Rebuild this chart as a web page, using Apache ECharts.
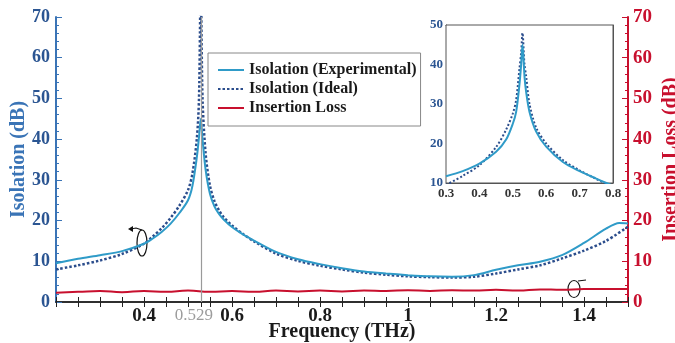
<!DOCTYPE html>
<html>
<head>
<meta charset="utf-8">
<script src="https://cdn.jsdelivr.net/npm/echarts@6/dist/echarts.min.js"></script>
<style>
  html, body { margin: 0; padding: 0; background: #fff; }
  #chart { width: 675px; height: 343px; }
</style>
</head>
<body>
<div id="chart"></div>
<script>
// Isolacion experimental (trazo continuo)
const freqExp = [0.20, 0.25, 0.30, 0.35, 0.40, 0.42, 0.44, 0.46, 0.48, 0.50, 0.51, 0.52, 0.525, 0.529, 0.533, 0.54, 0.55, 0.56, 0.57, 0.58, 0.60, 0.625, 0.65, 0.70, 0.75, 0.80, 0.85, 0.90, 0.95, 1.00, 1.05, 1.10, 1.15, 1.20, 1.25, 1.30, 1.35, 1.40, 1.45, 1.48, 1.50];
const isoExp = [9.5, 10.6, 11.5, 12.5, 14.3, 15.6, 17.2, 19.2, 21.8, 25.0, 28.5, 35.5, 40.5, 45, 40, 32.5, 26.5, 23.5, 21.7, 20.4, 18.4, 16.6, 15.1, 12.3, 10.5, 9.3, 8.3, 7.5, 7.0, 6.6, 6.3, 6.2, 6.6, 7.9, 9.0, 9.9, 11.5, 14.5, 18.0, 19.4, 19.3];

// Isolacion ideal (punteada)
const freqIdeal = [0.20, 0.25, 0.30, 0.35, 0.40, 0.42, 0.44, 0.46, 0.48, 0.50, 0.51, 0.52, 0.525, 0.529, 0.533, 0.54, 0.55, 0.56, 0.57, 0.58, 0.60, 0.625, 0.65, 0.70, 0.75, 0.80, 0.85, 0.90, 0.95, 1.00, 1.05, 1.10, 1.15, 1.20, 1.25, 1.30, 1.35, 1.40, 1.45, 1.50];
const isoIdeal = [8.0, 9.0, 10.2, 11.8, 14.3, 16.1, 18.1, 20.6, 23.6, 27.5, 31.5, 40, 50, 78, 50, 36.5, 28.5, 24.8, 22.6, 21.0, 18.8, 16.7, 14.9, 11.9, 10.1, 8.9, 8.0, 7.2, 6.7, 6.3, 6.1, 6.0, 6.2, 7.0, 8.0, 9.0, 10.7, 12.6, 15.0, 18.5];

// Perdida de insercion
const freqLoss = [0.20, 0.25, 0.30, 0.35, 0.40, 0.45, 0.50, 0.55, 0.60, 0.65, 0.70, 0.75, 0.80, 0.85, 0.90, 0.95, 1.00, 1.05, 1.10, 1.15, 1.20, 1.25, 1.30, 1.35, 1.40, 1.45, 1.50];
const insLoss = [2.3, 2.5, 2.7, 2.4, 2.7, 2.5, 2.8, 2.5, 2.7, 2.5, 2.8, 2.6, 2.8, 2.6, 2.8, 2.7, 2.9, 2.7, 2.9, 2.8, 3.0, 2.8, 3.1, 3.0, 3.2, 3.2, 3.2];

// Recuadro ampliado
const insetFreq = [0.30, 0.35, 0.40, 0.45, 0.48, 0.50, 0.51, 0.52, 0.525, 0.529, 0.535, 0.54, 0.55, 0.57, 0.60, 0.65, 0.70, 0.75, 0.78, 0.80];
const insetExp = [11.7, 13.0, 14.9, 17.9, 21.0, 25.0, 28.0, 35.0, 40.0, 45.0, 37.0, 33.0, 28.0, 23.0, 19.2, 15.3, 13.0, 11.1, 10.0, 9.3];
const insetIdeal = [9.5, 11.8, 14.5, 19.1, 23.5, 27.6, 31.0, 39.0, 43.0, 48.0, 40.0, 37.0, 30.0, 24.0, 20.0, 15.8, 13.2, 11.0, 9.8, 9.0];

const xLabels = [0.4, 0.529, 0.6, 0.8, 1, 1.2, 1.4];
const resonance = 0.529;

const FONT = 'Liberation Serif';
const C_EXP = '#2f9bc8';
const C_IDEAL = '#2b4d8c';
const C_LOSS = '#c8102e';
const C_AXIS_BLUE = '#3a74b6';
const C_LABEL_BLUE = '#2b5592';

const pairs = (xs, ys) => xs.map((x, i) => [x, ys[i]]);

// marcas menores cada 0.05 THz
const xTicks = [];
for (let i = 0; i <= 26; i++) xTicks.push(Math.round((0.2 + i * 0.05) * 100) / 100);
xTicks.push(resonance);

const chart = echarts.init(document.getElementById('chart'));

chart.setOption({
  animation: false,
  backgroundColor: '#fff',
  textStyle: { fontFamily: FONT },
  grid: [
    { left: 56, right: 47, top: 17, bottom: 41, outerBoundsMode: 'none' },
    { left: 446, top: 25, width: 167, height: 158, outerBoundsMode: 'none', show: true, backgroundColor: '#fff', borderColor: '#555', borderWidth: 1, z: 5 }
  ],
  legend: {
    left: 208, top: 53,
    orient: 'vertical',
    itemWidth: 26, itemHeight: 10, itemGap: 3,
    padding: [9, 4, 10, 9],
    borderColor: '#888', borderWidth: 1,
    backgroundColor: '#fff',
    itemStyle: { opacity: 0 },
    textStyle: { fontFamily: FONT, fontWeight: 'bold', fontSize: 16, color: '#1a1a1a' },
    data: ['Isolation (Experimental)', 'Isolation (Ideal)', 'Insertion Loss']
  },
  xAxis: [
    {
      type: 'value', gridIndex: 0, min: 0.2, max: 1.5,
      name: 'Frequency (THz)', nameLocation: 'middle', nameGap: 20, nameMoveOverlap: false,
      nameTextStyle: { fontFamily: FONT, fontWeight: 'bold', fontSize: 20, color: '#1a1a1a' },
      axisLine: { lineStyle: { color: '#222', width: 1.5 } },
      axisTick: { inside: true, length: 5, customValues: xTicks, lineStyle: { color: '#222' } },
      axisLabel: {
        customValues: xLabels, margin: 5,
        fontFamily: FONT, fontWeight: 'bold', fontSize: 19, color: '#1a1a1a',
        formatter: v => v === resonance ? '{g|0.529}' : String(v),
        rich: { g: { fontFamily: FONT, fontWeight: 'normal', fontSize: 17, color: '#9c9c9c', padding: [0, 14, 0, 0] } }
      },
      splitLine: { show: false }
    },
    {
      type: 'value', gridIndex: 0, min: 0.2, max: 1.5, position: 'top',
      axisLine: { lineStyle: { color: '#222', width: 1.5 } },
      axisTick: { inside: true, length: 5, customValues: xTicks, lineStyle: { color: '#222' } },
      axisLabel: { show: false },
      splitLine: { show: false }
    },
    {
      type: 'value', gridIndex: 1, min: 0.3, max: 0.8, interval: 0.1,
      axisLine: { lineStyle: { color: '#555' } },
      axisTick: { inside: true, length: 4, lineStyle: { color: '#555' } },
      axisLabel: { margin: 4, fontFamily: FONT, fontWeight: 'bold', fontSize: 13, color: '#333' },
      splitLine: { show: false }
    },
    {
      type: 'value', gridIndex: 1, min: 0.3, max: 0.8, interval: 0.1, position: 'top',
      axisLine: { lineStyle: { color: '#555' } },
      axisTick: { inside: true, length: 4, lineStyle: { color: '#555' } },
      axisLabel: { show: false },
      splitLine: { show: false }
    }
  ],
  yAxis: [
    {
      type: 'value', gridIndex: 0, min: 0, max: 70, interval: 10,
      name: 'Isolation (dB)', nameLocation: 'middle', nameGap: 27, nameMoveOverlap: false,
      nameTextStyle: { fontFamily: FONT, fontWeight: 'bold', fontSize: 20, color: C_AXIS_BLUE },
      axisLine: { show: true, lineStyle: { color: C_AXIS_BLUE, width: 2 } },
      axisTick: { inside: true, length: 6, lineStyle: { color: C_AXIS_BLUE } },
      minorTick: { show: true, splitNumber: 5, length: 3, lineStyle: { color: C_AXIS_BLUE } },
      axisLabel: { margin: 6, fontFamily: FONT, fontWeight: 'bold', fontSize: 18, color: C_LABEL_BLUE },
      splitLine: { show: false }
    },
    {
      type: 'value', gridIndex: 0, min: 0, max: 70, interval: 10, position: 'right',
      name: 'Insertion Loss (dB)', nameLocation: 'middle', nameGap: 33, nameRotate: 90, nameMoveOverlap: false,
      nameTextStyle: { fontFamily: FONT, fontWeight: 'bold', fontSize: 20, color: C_LOSS },
      axisLine: { show: true, lineStyle: { color: C_LOSS, width: 2 } },
      axisTick: { inside: true, length: 6, lineStyle: { color: C_LOSS } },
      minorTick: { show: true, splitNumber: 5, length: 3, lineStyle: { color: C_LOSS } },
      axisLabel: { margin: 5, fontFamily: FONT, fontWeight: 'bold', fontSize: 19, color: C_LOSS },
      splitLine: { show: false }
    },
    {
      type: 'value', gridIndex: 1, min: 10, max: 50, interval: 10,
      axisLine: { show: true, lineStyle: { color: '#555' } },
      axisTick: { inside: true, length: 4, lineStyle: { color: '#555' } },
      axisLabel: { margin: 3, fontFamily: FONT, fontWeight: 'bold', fontSize: 13, color: C_LABEL_BLUE },
      splitLine: { show: false }
    },
    {
      type: 'value', gridIndex: 1, min: 10, max: 50, interval: 10, position: 'right',
      axisLine: { show: true, lineStyle: { color: '#555' } },
      axisTick: { inside: true, length: 4, lineStyle: { color: '#555' } },
      axisLabel: { show: false },
      splitLine: { show: false }
    }
  ],
  series: [
    {
      name: 'Insertion Loss', type: 'line', xAxisIndex: 0, yAxisIndex: 1,
      data: pairs(freqLoss, insLoss), symbol: 'none', smooth: 0.5,
      lineStyle: { color: C_LOSS, width: 2 }, itemStyle: { color: C_LOSS },
      markLine: {
        silent: true, symbol: 'none', label: { show: false },
        lineStyle: { color: '#9a9a9a', width: 1.2, type: 'solid' },
        data: [{ xAxis: resonance }]
      }
    },
    {
      name: 'Isolation (Ideal)', type: 'line', xAxisIndex: 0, yAxisIndex: 0,
      data: pairs(freqIdeal, isoIdeal), symbol: 'none', smooth: 0.3,
      lineStyle: { color: C_IDEAL, width: 2.5, type: [2.5, 2] }, itemStyle: { color: C_IDEAL }
    },
    {
      name: 'Isolation (Experimental)', type: 'line', xAxisIndex: 0, yAxisIndex: 0,
      data: pairs(freqExp, isoExp), symbol: 'none', smooth: 0.3,
      lineStyle: { color: C_EXP, width: 2 }, itemStyle: { color: C_EXP }
    },
    {
      name: 'Isolation (Ideal)', type: 'line', xAxisIndex: 2, yAxisIndex: 2, z: 6,
      data: pairs(insetFreq, insetIdeal), symbol: 'none', smooth: 0.3,
      lineStyle: { color: C_IDEAL, width: 2, type: [2, 2] }, itemStyle: { color: C_IDEAL }
    },
    {
      name: 'Isolation (Experimental)', type: 'line', xAxisIndex: 2, yAxisIndex: 2, z: 6,
      data: pairs(insetFreq, insetExp), symbol: 'none', smooth: 0.3,
      lineStyle: { color: C_EXP, width: 2 }, itemStyle: { color: C_EXP }
    }
  ],
  // elipses que indican el eje de cada curva
  graphic: [
    { type: 'ellipse', shape: { cx: 142, cy: 243, rx: 5, ry: 13 }, style: { fill: 'none', stroke: '#111', lineWidth: 1.2 } },
    { type: 'polyline', shape: { points: [[142, 230], [136, 228], [131, 229]] }, style: { fill: 'none', stroke: '#111', lineWidth: 1.2 } },
    { type: 'polygon', shape: { points: [[128, 229], [133, 226], [133, 232]] }, style: { fill: '#111' } },
    { type: 'ellipse', shape: { cx: 574, cy: 289, rx: 6, ry: 8.5 }, style: { fill: 'none', stroke: '#111', lineWidth: 1.2 } },
    { type: 'line', shape: { x1: 578, y1: 281, x2: 586, y2: 280 }, style: { stroke: '#111', lineWidth: 1.2 } }
  ]
});
</script>
</body>
</html>
